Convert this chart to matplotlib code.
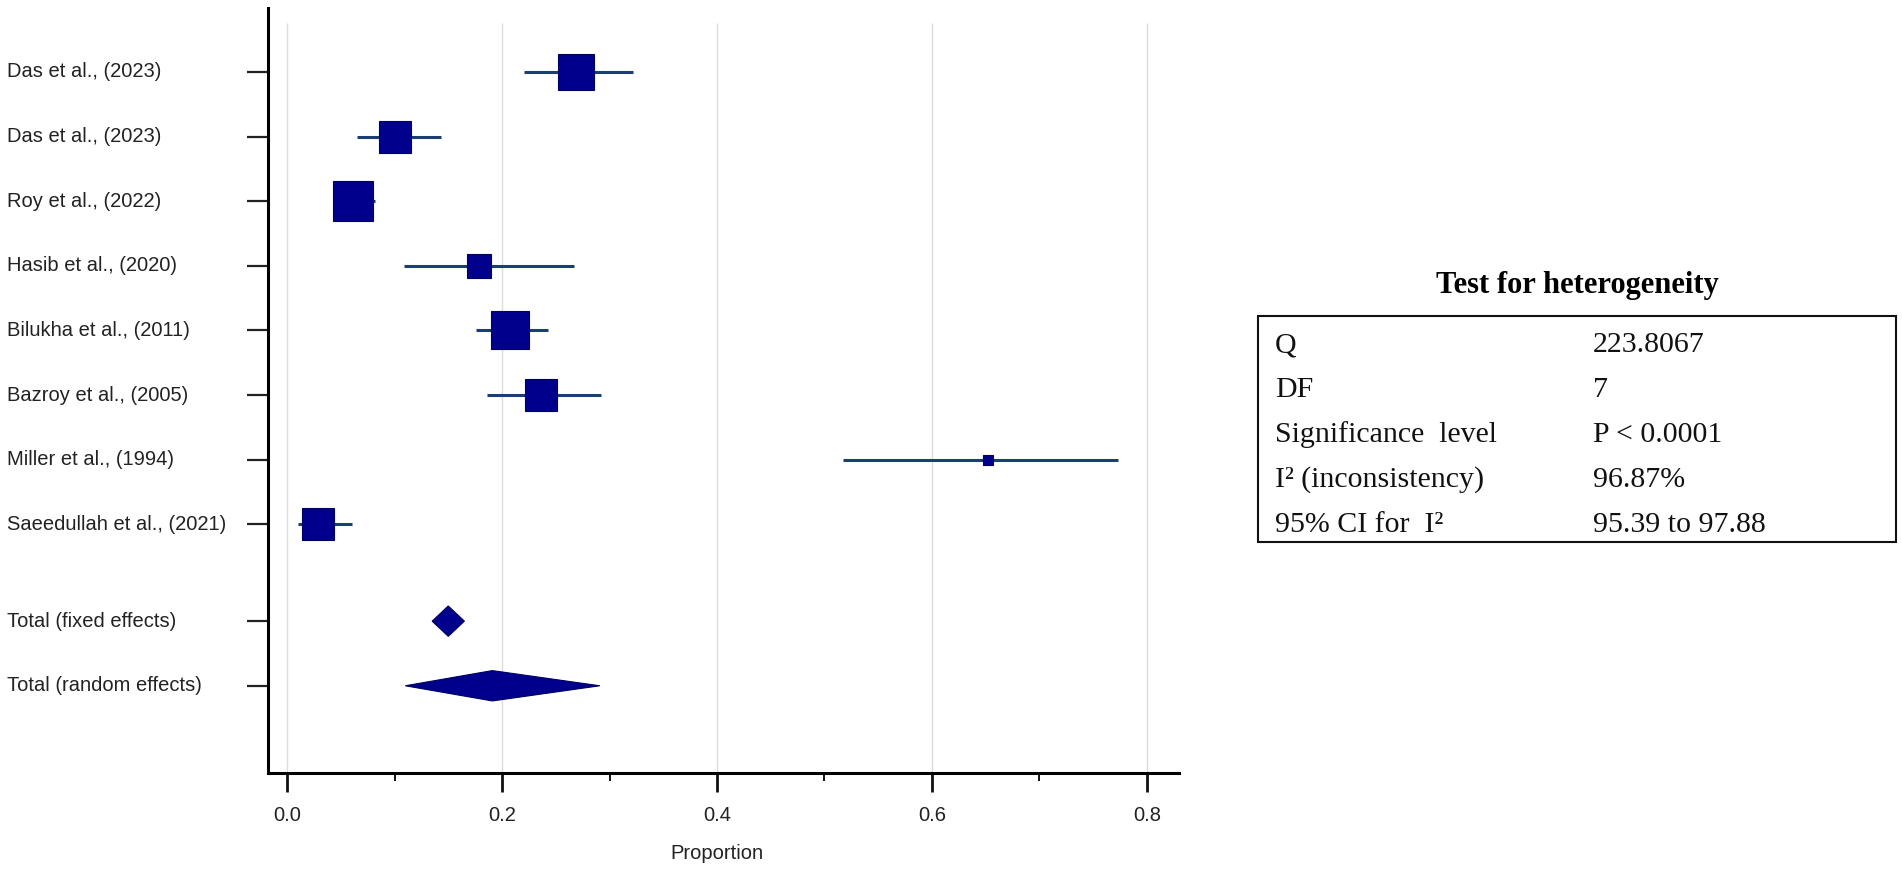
#!/usr/bin/env python3
"""Forest plot of pooled proportions with a heterogeneity table."""

import matplotlib

matplotlib.use("Agg")
import matplotlib.pyplot as plt
import numpy as np
from matplotlib.patches import Polygon, Rectangle
from matplotlib.transforms import blended_transform_factory

plt.rcParams["font.family"] = ["Liberation Sans", "DejaVu Sans"]

# --- data ---
studies = [
    "Das et al., (2023)",
    "Das et al., (2023)",
    "Roy et al., (2022)",
    "Hasib et al., (2020)",
    "Bilukha et al., (2011)",
    "Bazroy et al., (2005)",
    "Miller et al., (1994)",
    "Saeedullah et al., (2021)",
]
proportion = [0.269, 0.100, 0.061, 0.179, 0.207, 0.236, 0.652, 0.029]
ci_low = [0.220, 0.065, 0.045, 0.109, 0.176, 0.186, 0.517, 0.010]
ci_high = [0.322, 0.143, 0.082, 0.267, 0.243, 0.292, 0.773, 0.060]
weights = [15.1, 13.4, 19.7, 7.1, 17.8, 13.4, 1.2, 12.2]

pooled_labels = ["Total (fixed effects)", "Total (random effects)"]
pooled_est = [0.150, 0.191]
pooled_low = [0.135, 0.110]
pooled_high = [0.165, 0.291]

x_ticks = [0.0, 0.2, 0.4, 0.6, 0.8]
x_minor = [0.1, 0.3, 0.5, 0.7]

het_title = "Test for heterogeneity"
het_names = ["Q", "DF", "Significance  level", "I\u00b2 (inconsistency)", "95% CI for  I\u00b2"]
het_values = ["223.8067", "7", "P < 0.0001", "96.87%", "95.39 to 97.88"]

# --- style ---
FILL = "#00008C"
EDGE = "#000060"
LINE = "#1B3F73"
W, H, DPI = 1902, 871, 100


def main() -> None:
    fig = plt.figure(figsize=(W / DPI, H / DPI), dpi=DPI)
    ax = fig.add_axes([268 / W, 98 / H, (1179 - 268) / W, (871 - 98 - 8) / H])

    n = len(studies)
    rows = np.arange(n)
    pooled_rows = n + 0.5 + np.arange(len(pooled_labels))
    y_top, y_bot = -0.99, 10.85

    ax.set_xlim(-0.0177, 0.8298)
    ax.set_ylim(y_bot, y_top)

    ax.vlines(x_ticks, -0.76, y_bot, colors="#DCDCDC", linewidth=1.0, zorder=0)

    # confidence intervals and weighted squares
    ax.hlines(rows, ci_low, ci_high, colors=LINE, linewidth=2.2, zorder=2)
    w = np.asarray(weights)
    side_pt = 40 * 0.72 * np.sqrt(w / w.max())
    for y, x, s in zip(rows, proportion, side_pt):
        ax.plot(x, y, marker="s", markersize=s, color=FILL,
                markeredgecolor=EDGE, markeredgewidth=0.8, zorder=3)

    # pooled diamonds
    half_h = 0.235
    for y, est, lo, hi in zip(pooled_rows, pooled_est, pooled_low, pooled_high):
        diamond = Polygon([(lo, y), (est, y - half_h), (hi, y), (est, y + half_h)],
                          closed=True, facecolor=FILL, edgecolor=EDGE,
                          linewidth=0.8, zorder=3)
        ax.add_patch(diamond)

    # row labels, left aligned at the figure edge
    trans = blended_transform_factory(fig.transFigure, ax.transData)
    for y, label in zip(list(rows) + list(pooled_rows), studies + pooled_labels):
        ax.text(7 / W, y, label, transform=trans, ha="left", va="center",
                fontsize=14.5, color="#222222")

    ax.set_yticks(list(rows) + list(pooled_rows))
    ax.set_yticklabels([])
    ax.tick_params(axis="y", length=15, width=1.6, direction="out", color="#222222")

    ax.set_xticks(x_ticks)
    ax.set_xticklabels([f"{t:.1f}" for t in x_ticks], fontsize=14.5, color="#222222")
    ax.set_xticks(x_minor, minor=True)
    ax.tick_params(axis="x", which="major", length=14, width=2.0, pad=10,
                   direction="out", color="#111111")
    ax.tick_params(axis="x", which="minor", length=6, width=1.4,
                   direction="out", color="#111111")

    ax.set_xlabel("Proportion", fontsize=14.5, color="#222222")
    ax.xaxis.set_label_coords(0.493, -0.093)

    for side in ("top", "right"):
        ax.spines[side].set_visible(False)
    for side in ("left", "bottom"):
        ax.spines[side].set_linewidth(2.2)
        ax.spines[side].set_color("#000000")

    # heterogeneity table drawn in figure coordinates
    box_l, box_r, box_t, box_b = 1258, 1896, 316, 542
    fig.patches.append(Rectangle((box_l / W, (H - box_b) / H),
                                 (box_r - box_l) / W, (box_b - box_t) / H,
                                 transform=fig.transFigure, fill=False,
                                 edgecolor="#111111", linewidth=1.5))
    fig.text((box_l + box_r) / 2 / W, (H - 285) / H, het_title,
             family=["Liberation Serif", "DejaVu Serif"], fontweight="bold",
             fontsize=22, ha="center", va="center")
    for i, (name, value) in enumerate(zip(het_names, het_values)):
        base = (H - (352 + 45 * i)) / H
        fig.text(1275 / W, base, name, family=["Liberation Serif", "DejaVu Serif"],
                 fontsize=21.5, ha="left", va="baseline", color="#111111")
        fig.text(1593 / W, base, value, family=["Liberation Serif", "DejaVu Serif"],
                 fontsize=21.5, ha="left", va="baseline", color="#111111")

    fig.savefig("out.png", dpi=DPI, facecolor="white")
    plt.close(fig)


if __name__ == "__main__":
    main()
